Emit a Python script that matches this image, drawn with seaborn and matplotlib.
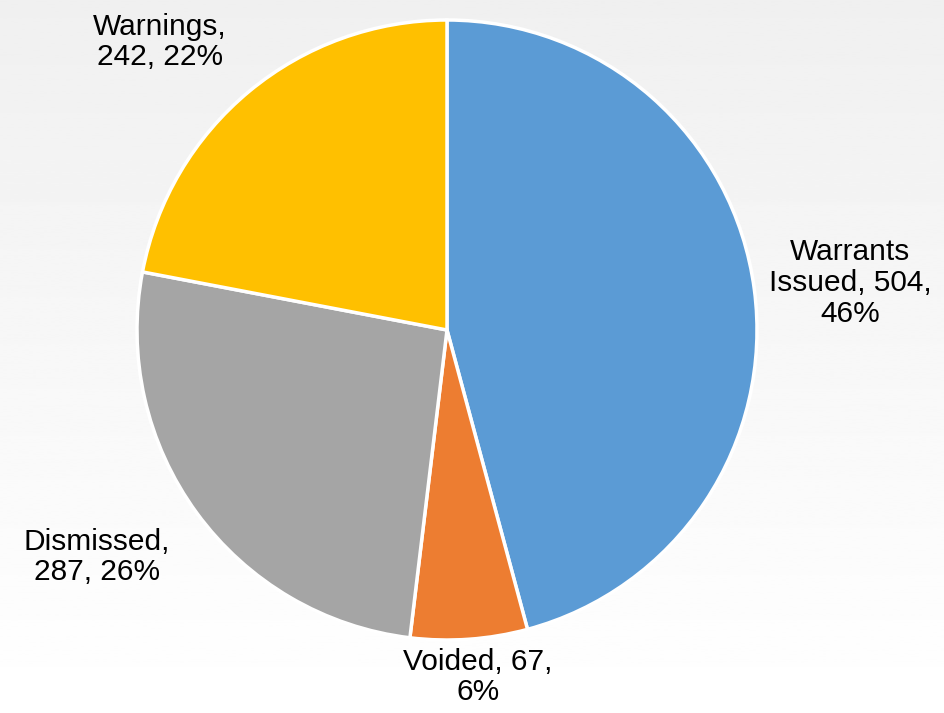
import numpy as np
import matplotlib.pyplot as plt
import seaborn as sns

# data
categories = ['Warrants\nIssued', 'Voided', 'Dismissed', 'Warnings']
counts = [504, 67, 287, 242]
colors = ['#5B9BD5', '#ED7D31', '#A5A5A5', '#FFC000']

# label text layout (pixel positions, y from top) and line breaks
label_pos = [(850, 283), (478, 677), (97, 557), (160, 42)]
label_fmt = ['{name}, {n},\n{p}%', '{name}, {n},\n{p}%', '{name},\n{n}, {p}%', '{name},\n{n}, {p}%']

sns.set_theme(style='white')
plt.rcParams['font.family'] = ['Liberation Sans', 'DejaVu Sans']

W, H = 945, 713
fig = plt.figure(figsize=(W / 100, H / 100), dpi=100)

# faded background
bg = fig.add_axes([0, 0, 1, 1])
grad = np.linspace(0.94, 1.0, 256).reshape(-1, 1)
bg.imshow(grad, cmap='gray', vmin=0, vmax=1, aspect='auto', extent=[0, 1, 0, 1])
bg.axis('off')

ax = fig.add_axes([0, 0, 1, 1])
ax.patch.set_alpha(0)
ax.pie(counts, colors=colors, startangle=90, counterclock=False,
       center=(447, H - 330), radius=310,
       wedgeprops={'edgecolor': 'white', 'linewidth': 2.5})
ax.set_xlim(0, W)
ax.set_ylim(0, H)
ax.set_aspect('equal')
ax.axis('off')

total = sum(counts)
for name, n, fmt, (x, y) in zip(categories, counts, label_fmt, label_pos):
    p = round(100 * n / total)
    txt = fmt.format(name=name, n=n, p=p)
    ax.text(x, H - y, txt, ha='center', va='center', fontsize=21.5,
            color='black', linespacing=1.12)

plt.savefig('out.png', dpi=100)
plt.close()
